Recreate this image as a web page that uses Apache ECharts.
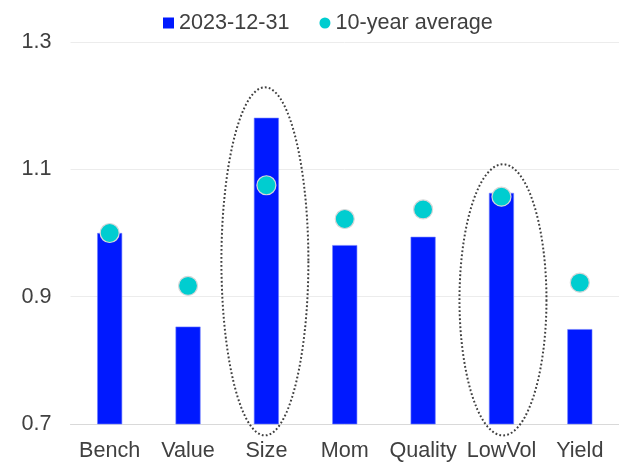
<!DOCTYPE html>
<html><head><meta charset="utf-8">
<script src="https://cdn.jsdelivr.net/npm/echarts@6/dist/echarts.min.js"></script>
<style>html,body{margin:0;padding:0;background:#fff}#c{width:619px;height:464px}</style>
</head><body><div id="c"></div>
<script>
const categories = ['Bench','Value','Size','Mom','Quality','LowVol','Yield'];
const current = [1.000, 0.853, 1.181, 0.981, 0.994, 1.063, 0.849];
const tenYearAvg = [1.000, 0.917, 1.075, 1.022, 1.037, 1.057, 0.922];
const yTicks = [0.7, 0.9, 1.1, 1.3];
const seriesNames = ['2023-12-31', '10-year average'];
// highlighted categories: [category, top value, bottom value]
const highlights = [['Size', 1.229, 0.682], ['LowVol', 1.108, 0.682]];

const chart = echarts.init(document.getElementById('c'));
const font = 'Liberation Sans, Arial, sans-serif';
const fs = 21.6;
chart.setOption({
  animation: false,
  textStyle: {fontFamily: font},
  legend: {
    top: 7, left: 158, itemGap: 30, itemWidth: 11, itemHeight: 11,
    textStyle: {fontSize: fs, color: '#404040', fontFamily: font},
    data: [{name: seriesNames[0], icon: 'rect', itemStyle: {borderWidth: 0}},
           {name: seriesNames[1], icon: 'circle', itemStyle: {borderWidth: 0}}]
  },
  grid: {left: 70.5, right: 0, top: 42, bottom: 40},
  xAxis: {
    type: 'category', data: categories,
    axisTick: {show: false},
    axisLine: {lineStyle: {color: '#d9d9d9', width: 1}},
    axisLabel: {interval: 0, fontSize: fs, color: '#404040', margin: 16, fontFamily: font}
  },
  yAxis: {
    type: 'value', min: yTicks[0], max: yTicks[yTicks.length-1], interval: 0.2,
    axisLine: {show: false}, axisTick: {show: false},
    splitLine: {lineStyle: {color: '#ececec'}},
    axisLabel: {fontSize: fs, color: '#404040', margin: 19, fontFamily: font,
      formatter: v => v.toFixed(1)}
  },
  series: [
    {name: seriesNames[0], type: 'bar', data: current, barWidth: 25,
     itemStyle: {color: '#0019ff', borderColor: '#6f80ff', borderWidth: 0.6}},
    {name: seriesNames[1], type: 'scatter', data: tenYearAvg, symbolSize: 19,
     itemStyle: {color: '#00cdd0', borderColor: '#d8d8d8', borderWidth: 1.2, opacity: 1}, z: 3}
  ]
});

function ellipsePoints(cx, cy, rx, ry) {
  const pts = [];
  for (let i = 0; i < 120; i++) {
    const a = i / 120 * Math.PI * 2;
    pts.push([cx + rx * Math.cos(a), cy + ry * Math.sin(a)]);
  }
  return pts;
}
const offsets = [-1.5, 1.5];
const graphics = highlights.map(([cat, top, bottom], i) => {
  const pTop = chart.convertToPixel({gridIndex: 0}, [cat, top]);
  const pBot = chart.convertToPixel({gridIndex: 0}, [cat, bottom]);
  const cx = pTop[0] + offsets[i];
  const cy = (pTop[1] + pBot[1]) / 2;
  const ry = (pBot[1] - pTop[1]) / 2;
  return {
    type: 'polygon', z: 10, silent: true,
    shape: {points: ellipsePoints(cx, cy, 43.5, ry)},
    style: {fill: 'none', stroke: '#404040', lineWidth: 2, lineDash: [1.8, 2.2]}
  };
});
chart.setOption({graphic: graphics});
</script></body></html>
